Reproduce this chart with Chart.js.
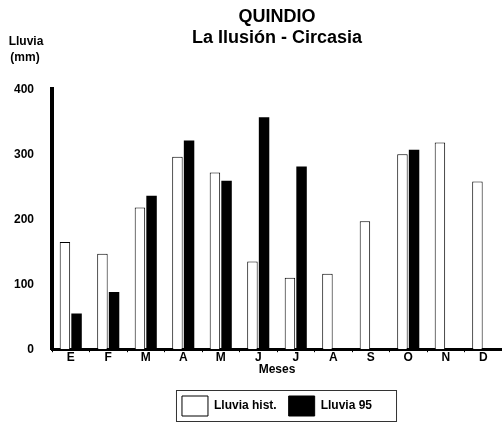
<!DOCTYPE html>
<html>
<head>
<meta charset="utf-8">
<script src="https://cdn.jsdelivr.net/npm/chart.js@4/dist/chart.umd.min.js"></script>
<style>
    html, body { margin: 0; padding: 0; background: #ffffff; }
    #caja { width: 502px; height: 430px; }
</style>
</head>
<body>
<div id="caja"><canvas id="graficaLluvia"></canvas></div>
<script>
/* ===============================
   DATOS
================================= */
let meses = ["E", "F", "M", "A", "M", "J", "J", "A", "S", "O", "N", "D"];
let lluviaHist = [165, 147, 218, 296, 272, 135, 110, 116, 197, 300, 318, 258];
let lluvia95 = [55, 88, 236, 321, 259, 357, 281, null, null, 307, null, null];
let ticksY = [0, 100, 200, 300, 400];

let fuente = "'Liberation Sans', Arial, sans-serif";

/* ===============================
   PLUGIN: ETIQUETA EJE Y Y MARCO LEYENDA
================================= */
let extras = {
    id: "extras",
    afterDraw(chart) {
        let ctx = chart.ctx;
        ctx.save();
        ctx.fillStyle = "#000";
        ctx.font = "bold 12px " + fuente;
        ctx.textAlign = "center";
        ctx.textBaseline = "middle";
        ctx.fillText("Lluvia", 26, 42);
        ctx.fillText("(mm)", 25, 58);

        // marco de la leyenda
        let cajas = chart.legend.legendHitBoxes;
        if (cajas && cajas.length) {
            let izq = Math.min(...cajas.map(c => c.left)) - 6;
            let der = Math.max(...cajas.map(c => c.left + c.width)) + 24;
            let arr = Math.min(...cajas.map(c => c.top)) - 6;
            let aba = Math.max(...cajas.map(c => c.top + c.height)) + 5;
            ctx.strokeStyle = "#333";
            ctx.lineWidth = 1;
            ctx.strokeRect(izq + 0.5, arr + 0.5, der - izq, aba - arr);
        }
        ctx.restore();
    }
};

/* ===============================
   GRAFICA
================================= */
let ctx = document.getElementById("graficaLluvia").getContext("2d");

new Chart(ctx, {
    type: "bar",
    data: {
        labels: meses,
        datasets: [{
            label: "Lluvia hist.",
            data: lluviaHist,
            backgroundColor: "#ffffff",
            borderColor: "#000000",
            borderWidth: 1,
            barPercentage: 0.9,
            categoryPercentage: 0.62
        }, {
            label: "Lluvia 95",
            data: lluvia95,
            backgroundColor: "#000000",
            borderColor: "#000000",
            borderWidth: 0,
            barPercentage: 0.9,
            categoryPercentage: 0.62
        }]
    },
    options: {
        responsive: true,
        maintainAspectRatio: false,
        animation: false,
        layout: {
            padding: { left: 0, right: 0, top: 0, bottom: 4 }
        },
        plugins: {
            tooltip: { enabled: false },
            title: {
                display: true,
                fullSize: false,
                text: ["QUINDIO", "La Ilusión - Circasia"],
                color: "#000",
                font: { family: fuente, size: 18, weight: "bold", lineHeight: 1.2 },
                padding: { top: 6, bottom: 40 }
            },
            legend: {
                position: "bottom",
                fullSize: false,
                labels: {
                    color: "#000",
                    boxWidth: 26,
                    boxHeight: 20,
                    padding: 12,
                    font: { family: fuente, size: 12, weight: "bold" },
                    generateLabels(chart) {
                        return chart.data.datasets.map((d, i) => ({
                            text: d.label,
                            fillStyle: d.backgroundColor,
                            strokeStyle: "#000",
                            lineWidth: 1,
                            fontColor: "#000",
                            datasetIndex: i
                        }));
                    }
                }
            }
        },
        scales: {
            x: {
                offset: true,
                border: { color: "#000", width: 3 },
                grid: { display: true, drawOnChartArea: false, color: "#000", tickLength: 3, offset: true },
                ticks: {
                    color: "#000",
                    padding: -2,
                    font: { family: fuente, size: 12, weight: "bold" }
                },
                title: {
                    display: true,
                    text: "Meses",
                    color: "#000",
                    padding: { top: 0, bottom: 7 },
                    font: { family: fuente, size: 12, weight: "bold" }
                }
            },
            y: {
                min: 0,
                max: 400,
                afterFit(scale) { scale.width = 52; },
                afterBuildTicks(scale) { scale.ticks = ticksY.map(v => ({ value: v })); },
                border: { color: "#000", width: 4 },
                grid: { display: false },
                ticks: {
                    color: "#000",
                    padding: 10,
                    font: { family: fuente, size: 12, weight: "bold" }
                }
            }
        }
    },
    plugins: [extras]
});
</script>
</body>
</html>
